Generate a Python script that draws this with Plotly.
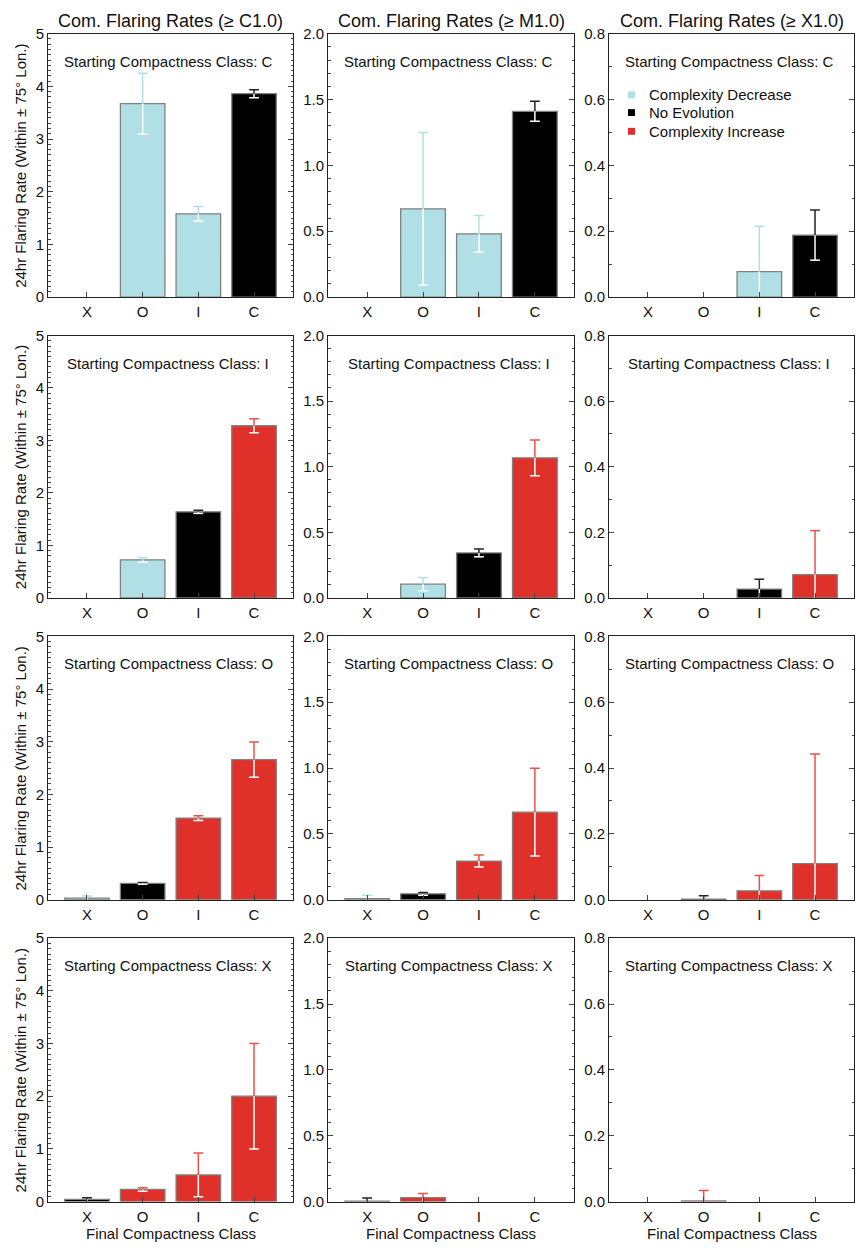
import plotly.graph_objects as go

# ---------------- data ----------------
categories = ["X", "O", "I", "C"]            # final compactness class
start_classes = ["C", "I", "O", "X"]          # starting class per row
thresholds = ["C1.0", "M1.0", "X1.0"]

rate_C1 = [
    [0.0, 3.67, 1.58, 3.86],
    [0.0, 0.725, 1.64, 3.28],
    [0.03, 0.31, 1.55, 2.66],
    [0.044, 0.231, 0.506, 2.0],
]
err_C1 = [
    [0.0, 0.58, 0.14, 0.075],
    [0.0, 0.045, 0.03, 0.135],
    [0.04, 0.018, 0.044, 0.333],
    [0.03, 0.033, 0.415, 1.0],
]
rate_M1 = [
    [0.0, 0.67, 0.48, 1.41],
    [0.0, 0.105, 0.343, 1.068],
    [0.0075, 0.045, 0.294, 0.665],
    [0.004, 0.03, 0.0, 0.0],
]
err_M1 = [
    [0.0, 0.58, 0.14, 0.076],
    [0.0, 0.05, 0.03, 0.136],
    [0.027, 0.01, 0.046, 0.333],
    [0.023, 0.032, 0.0, 0.0],
]
rate_X1 = [
    [0.0, 0.0, 0.077, 0.188],
    [0.0, 0.0, 0.027, 0.071],
    [0.0, 0.002, 0.027, 0.11],
    [0.0, 0.002, 0.0, 0.0],
]
err_X1 = [
    [0.0, 0.0, 0.138, 0.076],
    [0.0, 0.0, 0.03, 0.134],
    [0.0, 0.01, 0.047, 0.333],
    [0.0, 0.032, 0.0, 0.0],
]
y_max = [5.0, 2.0, 0.8]
y_dtick = [1.0, 0.5, 0.2]
y_fmt = ["d", ".1f", ".1f"]
legend_names = ["Complexity Decrease", "No Evolution", "Complexity Increase"]

rates = [rate_C1, rate_M1, rate_X1]
errs = [err_C1, err_M1, err_X1]

# ---------------- style ----------------
W, H = 856, 1253
FONT = "Liberation Sans, Arial, Helvetica, sans-serif"
TXT = "#111111"
fill = {"dec": "#b0e0e6", "none": "#000000", "inc": "#e0302a"}
errc = {"dec": "#b0e0e6", "none": "#222222", "inc": "#e8524c"}
col_px = [(48, 293), (328, 574), (609, 854)]
row_px = [(25, 292), (331, 597), (636, 903), (942, 1209)]


def fx(p):
    return p / W


def fy(p):
    return 1 - p / H


fig = go.Figure()
annotations = []
shapes = []
layout = {}

for c in range(3):
    for r in range(4):
        n = r * 3 + c + 1
        xa = "x" if n == 1 else f"x{n}"
        ya = "y" if n == 1 else f"y{n}"
        xkey = "xaxis" if n == 1 else f"xaxis{n}"
        ykey = "yaxis" if n == 1 else f"yaxis{n}"
        vals = rates[c][r]
        ers = errs[c][r]
        s = categories.index(start_classes[r])
        groups = ["dec" if k < s else ("none" if k == s else "inc") for k in range(4)]

        fig.add_trace(go.Bar(
            x=categories, y=vals, width=0.8,
            marker=dict(color=[fill[g] for g in groups],
                        line=dict(color="#808080",
                                  width=[1.3 if v > 0 else 0 for v in vals])),
            xaxis=xa, yaxis=ya, showlegend=False, hoverinfo="x+y"))

        # upper error parts, in bar colour
        for g in ["dec", "none", "inc"]:
            ks = [k for k in range(4) if groups[k] == g and ers[k] > 0]
            if not ks:
                continue
            fig.add_trace(go.Scatter(
                x=[categories[k] for k in ks], y=[vals[k] for k in ks],
                mode="markers", marker=dict(size=1, color="rgba(0,0,0,0)"),
                error_y=dict(type="data", symmetric=False,
                             array=[ers[k] for k in ks],
                             arrayminus=[0] * len(ks),
                             color=errc[g], thickness=1.5, width=0),
                xaxis=xa, yaxis=ya, showlegend=False, hoverinfo="skip"))
            fig.add_trace(go.Scatter(
                x=[categories[k] for k in ks], y=[vals[k] + ers[k] for k in ks],
                mode="markers",
                marker=dict(symbol="line-ew", size=7,
                            line=dict(color=errc[g], width=1.5)),
                xaxis=xa, yaxis=ya, showlegend=False, hoverinfo="skip"))

        # lower error parts, white inside the bar
        ks = [k for k in range(4) if ers[k] > 0 and vals[k] > 0]
        if ks:
            fig.add_trace(go.Scatter(
                x=[categories[k] for k in ks], y=[vals[k] for k in ks],
                mode="markers", marker=dict(size=1, color="rgba(0,0,0,0)"),
                error_y=dict(type="data", symmetric=False,
                             array=[0] * len(ks),
                             arrayminus=[min(ers[k], vals[k]) for k in ks],
                             color="#ffffff", thickness=1.5, width=0),
                xaxis=xa, yaxis=ya, showlegend=False, hoverinfo="skip"))
        kc = [k for k in range(4) if ers[k] > 0 and vals[k] - ers[k] > 0.004 * y_max[c]]
        if kc:
            fig.add_trace(go.Scatter(
                x=[categories[k] for k in kc], y=[vals[k] - ers[k] for k in kc],
                mode="markers",
                marker=dict(symbol="line-ew", size=7,
                            line=dict(color="#ffffff", width=1.5)),
                xaxis=xa, yaxis=ya, showlegend=False, hoverinfo="skip"))

        x0, x1 = col_px[c]
        y0, y1 = row_px[r]
        layout[xkey] = dict(
            domain=[fx(x0), fx(x1)], anchor=ya, type="category",
            categoryorder="array", categoryarray=categories,
            range=[-0.7, 3.7], showline=True, mirror=True,
            linecolor="#222222", linewidth=1,
            ticks="inside", ticklen=5, tickwidth=1, tickcolor="#444444",
            tickfont=dict(family=FONT, size=15, color=TXT),
            showgrid=False, zeroline=False, fixedrange=True,
            ticklabelstandoff=1)
        layout[ykey] = dict(
            domain=[fy(y1), fy(y0)], anchor=xa,
            range=[0, y_max[c]], dtick=y_dtick[c], tick0=0,
            tickformat=y_fmt[c], showline=True, mirror="ticks",
            linecolor="#222222", linewidth=1,
            ticks="inside", ticklen=5, tickwidth=1, tickcolor="#444444",
            minor=dict(dtick=0.1, ticks="inside", ticklen=2.5,
                       tickcolor="#444444", tickwidth=1),
            tickfont=dict(family=FONT, size=15, color=TXT),
            showgrid=False, zeroline=False, fixedrange=True)

        annotations.append(dict(
            xref="paper", yref="paper", x=fx((x0 + x1) / 2 - 2.5), y=fy(y0 + 28),
            text=f"Starting Compactness Class: {start_classes[r]}",
            showarrow=False, xanchor="center", yanchor="middle",
            font=dict(family=FONT, size=15, color=TXT)))

    x0, x1 = col_px[c]
    annotations.append(dict(
        xref="paper", yref="paper", x=fx((x0 + x1) / 2), y=fy(12),
        text=f"Com. Flaring Rates (\u2265 {thresholds[c]})",
        showarrow=False, xanchor="center", yanchor="middle",
        font=dict(family=FONT, size=18, color=TXT)))
    annotations.append(dict(
        xref="paper", yref="paper", x=fx((x0 + x1) / 2), y=fy(1241),
        text="Final Compactness Class",
        showarrow=False, xanchor="center", yanchor="middle",
        font=dict(family=FONT, size=15, color=TXT)))

for r in range(4):
    y0, y1 = row_px[r]
    annotations.append(dict(
        xref="paper", yref="paper", x=fx(20.5), y=fy((y0 + y1) / 2 + 1),
        text="24hr Flaring Rate (Within \u00b1 75\u00b0 Lon.)", textangle=-90,
        showarrow=False, xanchor="center", yanchor="middle",
        font=dict(family=FONT, size=15, color=TXT)))

# legend (top-right panel)
leg_y = [87, 105, 124]
for name, g, ly in zip(legend_names, ["dec", "none", "inc"], leg_y):
    shapes.append(dict(type="rect", xref="paper", yref="paper",
                       x0=fx(628), x1=fx(635), y0=fy(ly + 3.5), y1=fy(ly - 3.5),
                       fillcolor=fill[g], line=dict(width=0)))
    annotations.append(dict(
        xref="paper", yref="paper", x=fx(647), y=fy(ly),
        text=name, showarrow=False, xanchor="left", yanchor="middle",
        font=dict(family=FONT, size=15, color=TXT)))

fig.update_layout(
    width=W, height=H, margin=dict(l=0, r=0, t=0, b=0),
    paper_bgcolor="white", plot_bgcolor="white",
    showlegend=False, bargap=0.2,
    annotations=annotations, shapes=shapes,
    font=dict(family=FONT, color=TXT),
    **layout)

fig.write_html(
    "out.html",
    config={"displayModeBar": False},
    post_script=(
        "document.body.style.margin='0px';"
        "document.body.style.overflow='hidden';"
    ))
